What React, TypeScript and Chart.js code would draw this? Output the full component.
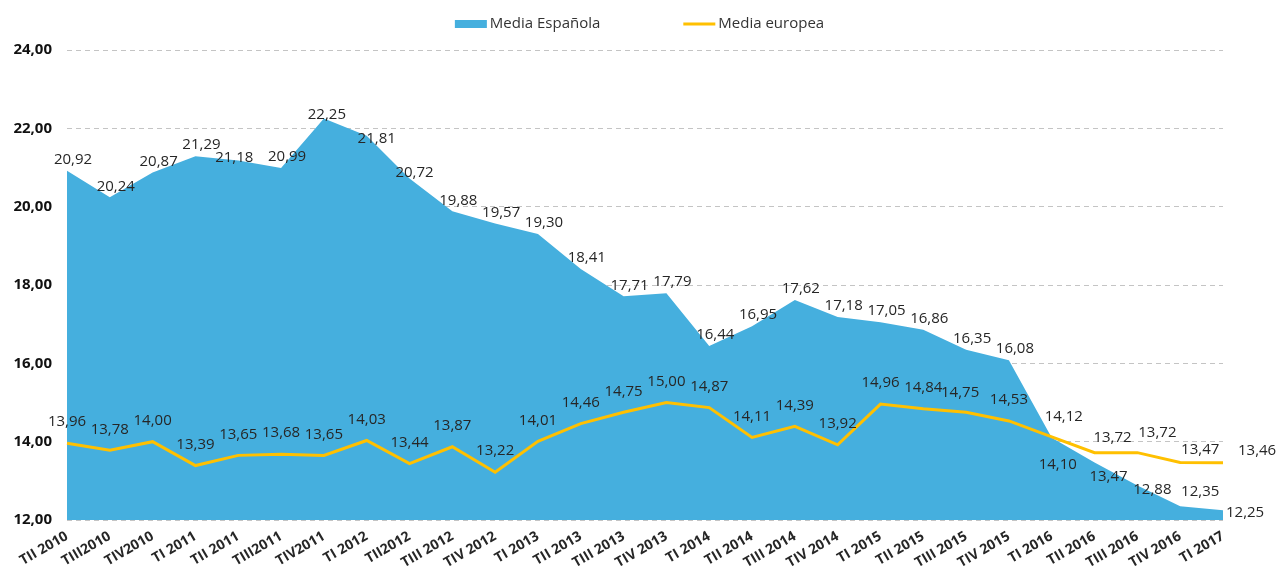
import React, { useEffect, useRef } from "react";
import { Chart, registerables } from "chart.js";

Chart.register(...registerables);

const categories = [
  "TII 2010", "TIII2010", "TIV2010", "TI 2011", "TII 2011", "TIII2011", "TIV2011",
  "TI 2012", "TII2012", "TIII 2012", "TIV 2012", "TI 2013", "TII 2013", "TIII 2013",
  "TIV 2013", "TI 2014", "TII 2014", "TIII 2014", "TIV 2014", "TI 2015", "TII 2015",
  "TIII 2015", "TIV 2015", "TI 2016", "TII 2016", "TIII 2016", "TIV 2016", "TI 2017",
];

const spanishValues = [
  20.92, 20.24, 20.87, 21.29, 21.18, 20.99, 22.25, 21.81, 20.72, 19.88, 19.57, 19.3,
  18.41, 17.71, 17.79, 16.44, 16.95, 17.62, 17.18, 17.05, 16.86, 16.35, 16.08, 14.1,
  13.47, 12.88, 12.35, 12.25,
];

const europeanValues = [
  13.96, 13.78, 14.0, 13.39, 13.65, 13.68, 13.65, 14.03, 13.44, 13.87, 13.22, 14.01,
  14.46, 14.75, 15.0, 14.87, 14.11, 14.39, 13.92, 14.96, 14.84, 14.75, 14.53, 14.12,
  13.72, 13.72, 13.47, 13.46,
];

const yMin = 12;
const yMax = 24;
const yStep = 2;

const seriesNames = ["Media Española", "Media europea"];

const BLUE = "#45AFDE";
const GOLD = "#FFC000";
const FONT = "'Open Sans', 'Noto Sans', sans-serif";
const TEXT = "#262626";

const fmt = (v: number) => v.toFixed(2).replace(".", ",");

type Off = { dx: number; dy: number; align?: CanvasTextAlign };

const labelDefaults: Off[] = [
  { dx: 6, dy: -11 },
  { dx: 0, dy: -21 },
];
const labelOverrides: Record<number, Off>[] = [
  {
    4: { dx: -4, dy: -3 },
    6: { dx: 3, dy: -4 },
    7: { dx: 10, dy: 3 },
    8: { dx: 5, dy: -6 },
    23: { dx: 6, dy: 27 },
    24: { dx: 14, dy: 14 },
    25: { dx: 15, dy: 4 },
    26: { dx: 20, dy: -15 },
    27: { dx: 3, dy: 3, align: "left" },
  },
  {
    21: { dx: -6, dy: -20 },
    23: { dx: 12, dy: -20 },
    24: { dx: 18, dy: -15 },
    25: { dx: 20, dy: -20 },
    26: { dx: 20, dy: -13 },
    27: { dx: 15, dy: -12, align: "left" },
  },
];

const valueLabelsPlugin = {
  id: "valueLabels",
  afterDatasetsDraw(chart: any) {
    const ctx: CanvasRenderingContext2D = chart.ctx;
    ctx.save();
    ctx.font = `15px ${FONT}`;
    ctx.fillStyle = TEXT;
    ctx.textBaseline = "middle";
    chart.data.datasets.forEach((ds: any, di: number) => {
      const meta = chart.getDatasetMeta(di);
      const key = ds.seriesIndex as number;
      meta.data.forEach((el: any, i: number) => {
        const o = labelOverrides[key][i] || labelDefaults[key];
        ctx.textAlign = o.align || "center";
        ctx.fillText(fmt(ds.data[i]), el.x + o.dx, el.y + o.dy);
      });
    });
    ctx.restore();
  },
};

const legendPlugin = {
  id: "customLegend",
  afterDraw(chart: any) {
    const ctx: CanvasRenderingContext2D = chart.ctx;
    ctx.save();
    ctx.font = `15px ${FONT}`;
    ctx.textBaseline = "middle";
    ctx.textAlign = "left";
    const w1 = ctx.measureText(seriesNames[0]).width;
    const w2 = ctx.measureText(seriesNames[1]).width;
    const box = 32;
    const gap = 3;
    const itemGap = 83;
    const total = box + gap + w1 + itemGap + box + gap + w2;
    let x = (chart.width - total) / 2;
    const y = 24;
    ctx.fillStyle = BLUE;
    ctx.fillRect(x, y - 4, box, 8);
    ctx.fillStyle = "#333333";
    ctx.fillText(seriesNames[0], x + box + gap, y);
    x += box + gap + w1 + itemGap;
    ctx.strokeStyle = GOLD;
    ctx.lineWidth = 3;
    ctx.beginPath();
    ctx.moveTo(x, y);
    ctx.lineTo(x + box, y);
    ctx.stroke();
    ctx.fillStyle = "#333333";
    ctx.fillText(seriesNames[1], x + box + gap, y);
    ctx.restore();
  },
};

export default function App() {
  const canvasRef = useRef<HTMLCanvasElement | null>(null);

  useEffect(() => {
    if (!canvasRef.current) return;
    const chart = new Chart(canvasRef.current, {
      type: "line",
      data: {
        labels: categories,
        datasets: [
          {
            label: seriesNames[0],
            seriesIndex: 0,
            data: spanishValues,
            fill: "start",
            backgroundColor: BLUE,
            borderColor: BLUE,
            borderWidth: 0,
            pointRadius: 0,
            tension: 0,
            order: 2,
          } as any,
          {
            label: seriesNames[1],
            seriesIndex: 1,
            data: europeanValues,
            fill: false,
            borderColor: GOLD,
            backgroundColor: GOLD,
            borderWidth: 3,
            pointRadius: 0,
            tension: 0,
            order: 1,
          } as any,
        ],
      },
      options: {
        animation: false,
        responsive: true,
        maintainAspectRatio: false,
        layout: { padding: { top: 50, right: 56, left: 0, bottom: 0 } },
        plugins: {
          legend: { display: false },
          tooltip: { enabled: false },
        },
        scales: {
          x: {
            offset: false,
            grid: { display: false, drawTicks: false },
            border: { display: false },
            ticks: {
              autoSkip: false,
              minRotation: 30,
              maxRotation: 30,
              padding: 8,
              color: TEXT,
              font: { family: FONT, size: 14, weight: "bold" },
            },
            afterFit(scale: any) {
              scale.height = 56;
            },
          },
          y: {
            min: yMin,
            max: yMax,
            grid: {
              color: "#c4c4c4",
              lineWidth: 1,
              drawTicks: false,
            },
            border: { display: false, dash: [5, 4] },
            ticks: {
              stepSize: yStep,
              padding: 15,
              color: "#111111",
              font: { family: FONT, size: 15, weight: "bold" },
              callback: (v: any) => fmt(Number(v)),
            },
            afterFit(scale: any) {
              scale.width = 67;
            },
          },
        },
      },
      plugins: [valueLabelsPlugin, legendPlugin],
    });
    return () => chart.destroy();
  }, []);

  return (
    <div style={{ position: "fixed", left: 0, top: 0, width: 1279, height: 576, background: "#fff" }}>
      <canvas ref={canvasRef} />
    </div>
  );
}
